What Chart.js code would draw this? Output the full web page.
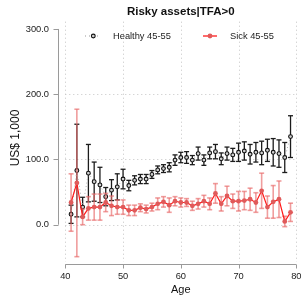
<!DOCTYPE html>
<html><head><meta charset="utf-8">
<script src="https://cdn.jsdelivr.net/npm/chart.js@4.4.0/dist/chart.umd.min.js"></script>
<style>html,body{margin:0;padding:0;background:#fff;overflow:hidden}#wrap{width:302px;height:296px;position:relative}</style>
</head><body><div id="wrap"><canvas id="c" width="302" height="296"></canvas></div>
<script>
const ages = [41,42,43,44,45,46,47,48,49,50,51,52,53,54,55,56,57,58,59,60,61,62,63,64,65,66,67,68,69,70,71,72,73,74,75,76,77,78,79];
const healthyMean = [16,83,27,79,66,61,43,53,58,70,60,68,70,70,77,84,86,88,99,103,103,99,109,99,110,112,101,109,107,111,113,108,111,110,114,111,109,103,135];
const healthyErr  = [14,71,15,44,30,27,14,16,20,15,8,7,7,7,6,6,6,7,8,8,9,7,10,8,9,11,9,10,10,14,14,15,15,18,17,21,21,23,32];
const sickMean = [34,64,12,25,27,27,34,29,27,27,22,22,26,24,27,32,35,30,36,34,34,29,32,36,32,48,32,44,36,36,37,39,34,52,27,35,39,5,19];
const sickErr  = [44,113,12,18,20,20,14,15,11,11,8,8,6,6,6,9,8,11,7,7,6,7,8,9,9,15,11,15,11,15,14,17,15,27,17,25,28,8,14];
const yTicks = [0,100,200,300];
const xTicks = [40,50,60,70,80];
const seriesLabels = ['Healthy 45-55','Sick 45-55'];
const titleText = 'Risky assets|TFA>0';
const yTitleText = 'US$ 1,000';
const xTitleText = 'Age';

const FONT = '"Liberation Sans", Arial, Helvetica, sans-serif';
const errs = [healthyErr, sickErr];
const means = [healthyMean, sickMean];
const barColors = ['#1c1c1c','rgba(232,105,105,0.65)'];

function seg(ctx,x1,y1,x2,y2){ctx.beginPath();ctx.moveTo(x1,y1);ctx.lineTo(x2,y2);ctx.stroke();}

const decor = {
  id:'decor',
  beforeDatasetsDraw(chart){
    const {ctx, chartArea:a, scales:{x,y}} = chart;
    ctx.save();
    ctx.strokeStyle = '#c4c4c4'; ctx.lineWidth = 1; ctx.setLineDash([1,3]);
    xTicks.forEach(v=>{const px=Math.round(x.getPixelForValue(v))+0.5; seg(ctx,px,a.top-4,px,a.bottom);});
    yTicks.filter(v=>v<300).forEach(v=>{const py=Math.round(y.getPixelForValue(v))+0.5; seg(ctx,a.left,py,a.right,py);});
    ctx.setLineDash([]);
    ctx.strokeStyle = '#9a9a9a'; ctx.lineWidth = 1;
    const ax = Math.round(a.left-7)+0.5;
    seg(ctx,ax,y.getPixelForValue(0),ax,y.getPixelForValue(300));
    yTicks.forEach(v=>{const py=Math.round(y.getPixelForValue(v))+0.5; seg(ctx,ax-5,py,ax,py);});
    const ay = Math.round(a.bottom+2)+0.5;
    seg(ctx,x.getPixelForValue(40),ay,x.getPixelForValue(80),ay);
    xTicks.forEach(v=>{const px=Math.round(x.getPixelForValue(v))+0.5; seg(ctx,px,ay,px,ay+4);});
    ctx.restore();
  },
  beforeDatasetDraw(chart,args){
    const i = args.index;
    const {ctx, scales:{x,y}} = chart;
    ctx.save();
    ctx.strokeStyle = barColors[i]; ctx.lineWidth = i===0?1.3:1.6;
    ages.forEach((ag,k)=>{
      const px = x.getPixelForValue(ag);
      const hi = y.getPixelForValue(means[i][k]+errs[i][k]);
      const lo = y.getPixelForValue(means[i][k]-errs[i][k]);
      seg(ctx,px,hi,px,lo);
      seg(ctx,px-2.5,hi,px+2.5,hi);
      seg(ctx,px-2.5,lo,px+2.5,lo);
    });
    ctx.restore();
  },
  afterDraw(chart){
    const {ctx, chartArea:a} = chart;
    ctx.save();
    const ly = 36;
    ctx.strokeStyle = '#999'; ctx.lineWidth = 1; ctx.setLineDash([1,3]);
    seg(ctx,85,ly,101,ly);
    ctx.setLineDash([]);
    ctx.beginPath(); ctx.arc(93.3,ly,1.9,0,Math.PI*2); ctx.fillStyle='#d0d0d0'; ctx.fill(); ctx.strokeStyle='#111'; ctx.lineWidth=1.1; ctx.stroke();
    ctx.strokeStyle = '#ff1a1a'; ctx.lineWidth = 1.3;
    seg(ctx,203,ly,217,ly);
    ctx.beginPath(); ctx.arc(210,ly,2.4,0,Math.PI*2); ctx.fillStyle='#e05a5a'; ctx.fill();
    ctx.fillStyle = '#222'; ctx.font = '9.3px '+FONT; ctx.textBaseline='middle'; ctx.textAlign='left';
    ctx.fillText(seriesLabels[0],113,ly+0.5);
    ctx.fillText(seriesLabels[1],230,ly+0.5);
    ctx.fillStyle = '#111';
    ctx.font = '11px '+FONT; ctx.textAlign='center'; ctx.textBaseline='alphabetic';
    ctx.fillText(xTitleText,(a.left+a.right)/2,292.5);
    ctx.translate(18.5,138); ctx.rotate(-Math.PI/2);
    ctx.font = '12px '+FONT;
    ctx.fillText(yTitleText,0,0);
    ctx.restore();
  }
};

new Chart(document.getElementById('c'), {
  type:'line',
  data:{datasets:[
    {label:seriesLabels[0], data:ages.map((a,k)=>({x:a,y:healthyMean[k]})), order:2,
     borderColor:'#b0b0b0', borderWidth:1, borderDash:[1,2.5], pointRadius:1.9, pointBorderWidth:1.1,
     pointBorderColor:'#111', pointBackgroundColor:'#d0d0d0', tension:0},
    {label:seriesLabels[1], data:ages.map((a,k)=>({x:a,y:sickMean[k]})), order:1,
     borderColor:'#ff1a1a', borderWidth:1.2, pointRadius:2.4, pointBorderWidth:0,
     pointBackgroundColor:'#e05a5a', pointBorderColor:'#e05a5a', tension:0}
  ]},
  options:{
    responsive:false, animation:false, devicePixelRatio:1,
    layout:{padding:{left:0,right:0,top:0,bottom:0}},
    plugins:{
      legend:{display:false}, tooltip:{enabled:false},
      title:{display:true, text:titleText, fullSize:false, color:'#111',
        font:{family:FONT, size:11.5, weight:'bold', lineHeight:1.2}, padding:{top:5,bottom:6.9}}
    },
    scales:{
      x:{type:'linear', min:40, max:80,
        afterBuildTicks(s){ s.ticks = xTicks.map(v=>({value:v})); },
        afterFit(s){ s.height = 296-261.9; s.paddingLeft = 0; s.paddingRight = 5.7; },
        grid:{display:false, drawTicks:false}, border:{display:false},
        ticks:{padding:9, maxRotation:0, autoSkip:false, color:'#222', font:{family:FONT,size:9.3}}},
      y:{type:'linear', min:-57, max:305,
        afterBuildTicks(s){ s.ticks = yTicks.map(v=>({value:v})); },
        afterFit(s){ s.width = 65.3; s.paddingTop = 0; s.paddingBottom = 0; },
        grid:{display:false, drawTicks:false}, border:{display:false},
        ticks:{padding:16.3, color:'#222', font:{family:FONT,size:9.3}, callback:v=>Number(v).toFixed(1)}}
    }
  },
  plugins:[decor]
});
</script></body></html>
